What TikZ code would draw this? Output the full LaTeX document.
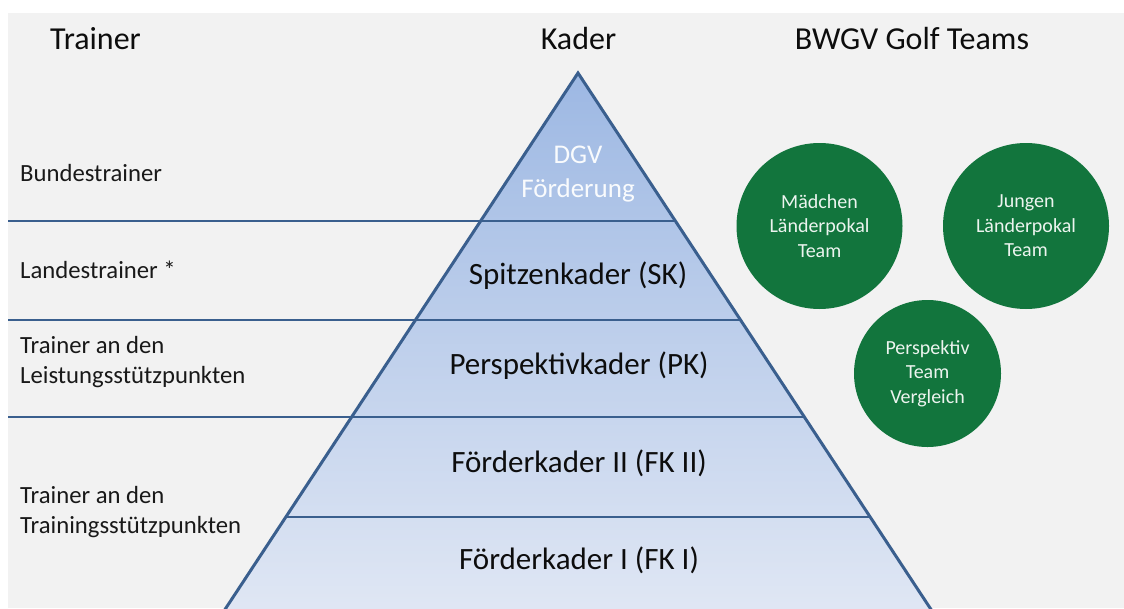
\documentclass[tikz,border=0pt]{standalone}
\usepackage{fontspec}
\setmainfont{Carlito}
\definecolor{bggray}{HTML}{F2F2F2}
\definecolor{lineblue}{HTML}{3A5F8E}
\definecolor{pyrtop}{HTML}{9DB8E3}
\definecolor{pyrbottom}{HTML}{E0E7F4}
\definecolor{teamgreen}{HTML}{12753D}
\tikzset{
  header/.style={font=\fontsize{32}{38}\selectfont, text=black!95},
  level/.style={font=\fontsize{31}{37}\selectfont, text=black!95},
  trainerlabel/.style={anchor=west, align=left, inner sep=0pt, font=\fontsize{24.7}{30}\selectfont, text=black!90},
  team/.style={shape=circle, fill=teamgreen, text=white!92!teamgreen, align=center, inner sep=0pt, font=\fontsize{20}{24.5}\selectfont},
  divider/.style={draw=lineblue, line width=2.4pt}
}
\begin{document}
\begin{tikzpicture}[x=1pt, y=-1pt]
\useasboundingbox (0,0) rectangle (1124,608);
\fill[bggray] (8,13) rectangle (1124,608);

% pyramid
\coordinate (apex) at (578,73);
\coordinate (bl) at (222,614);
\coordinate (br) at (934,614);
\shade[top color=pyrtop, bottom color=pyrbottom] (apex) -- (bl) -- (br) -- cycle;

\draw[divider] (8,221) -- (675.4,221);
\draw[divider] (8,320) -- (740.5,320);
\draw[divider] (8,417) -- (804.4,417);
\draw[divider] (286,517) -- (870,517);
\draw[lineblue, line width=3pt] (apex) -- (bl) -- (br) -- cycle;

% headers
\node[header, anchor=west, inner sep=0pt] (trainer) at (50,39){Trainer};
\node[header] (kader) at (578.5,39){Kader};
\node[header] (teams) at (912,39){BWGV Golf Teams};

% levels
\node[align=center, font=\fontsize{27}{34}\selectfont, text=white!94!pyrtop] (dgv) at (578,174){DGV\\Förderung};
\node[level] (sk) at (578,276){Spitzenkader (SK)};
\node[level] (pk) at (579,366){Perspektivkader (PK)};
\node[level] (fk2) at (579,463){Förderkader II (FK II)};
\node[level] (fk1) at (579,560){Förderkader I (FK I)};

% trainer
\node[trainerlabel] (bund) at (20,173){Bundestrainer};
\node[trainerlabel] (land) at (20,270){Landestrainer *};
\node[trainerlabel] (lsp) at (20,362){Trainer an den\\Leistungsstützpunkten};
\node[trainerlabel] (tsp) at (20,512.5){Trainer an den\\Trainingsstützpunkten};

% teams
\node[team, minimum size=166pt] (maedchen) at (819.5,226){Mädchen\\Länderpokal\\Team};
\node[team, minimum size=166pt] (jungen) at (1026,226){Jungen\\Länderpokal\\Team};
\node[team, minimum size=147pt] (perspektiv) at (927.5,373.5){Perspektiv\\Team\\Vergleich};

\end{tikzpicture}
\end{document}
